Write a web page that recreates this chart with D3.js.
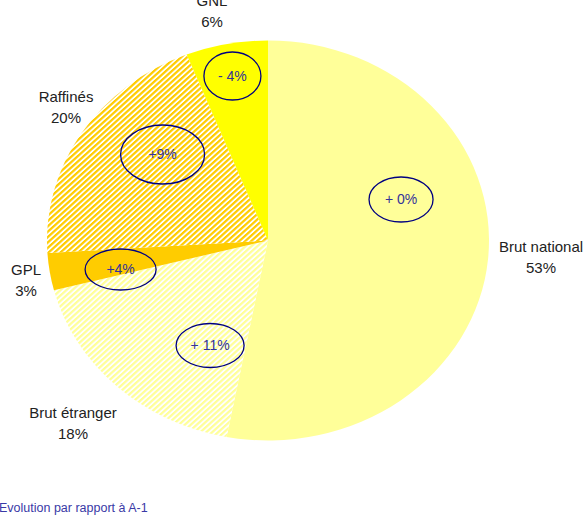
<!DOCTYPE html>
<html>
<head>
<meta charset="utf-8">
<script src="https://cdn.jsdelivr.net/npm/d3@7"></script>
<style>
  body { margin: 0; background: #fff; }
  svg { display: block; font-family: "Liberation Sans", Arial, sans-serif; }
</style>
</head>
<body>
<div id="chart"></div>
<script>
// data
var categories = ["Brut national", "Brut étranger", "GPL", "Raffinés", "GNL"];
var shares = [53, 18, 3, 20, 6];
var evolutions = ["+ 0%", "+ 11%", "+4%", "+9%", "- 4%"];
var footnote = "Evolution par rapport à A-1";

init();

function init() {
    var w = 587, h = 524;
    var cx = 268, cy = 240.5, rx = 221, ry = 200;

    var vis = d3.select("#chart")
        .append("svg")
        .attr("width", w)
        .attr("height", h);

    var defs = vis.append("defs");
    function hatch(id, color) {
        var p = defs.append("pattern")
            .attr("id", id)
            .attr("patternUnits", "userSpaceOnUse")
            .attr("width", 3.8)
            .attr("height", 3.8)
            .attr("patternTransform", "rotate(45)");
        p.append("rect").attr("width", 3.8).attr("height", 3.8).attr("fill", "#fff");
        p.append("rect").attr("width", 2.1).attr("height", 3.8).attr("fill", color);
    }
    hatch("hatchEtranger", "#ffff99");
    hatch("hatchRaffines", "#ffcc00");

    var fills = ["#ffff99", "url(#hatchEtranger)", "#ffcc00", "url(#hatchRaffines)", "#ffff00"];

    var pie = d3.pie().sort(null).value(function(d) { return d; });
    var arc = d3.arc().innerRadius(0).outerRadius(ry);

    // pie drawn as a circle then stretched horizontally
    var g = vis.append("g")
        .attr("transform", "translate(" + cx + "," + cy + ") scale(" + (rx / ry) + ",1)");

    g.selectAll("path.slice")
        .data(pie(shares))
        .enter()
        .append("path")
        .attr("class", "slice")
        .attr("d", arc)
        .attr("fill", function(d, i) { return fills[i]; });

    // category labels (name + share)
    var labelPos = [[541, 252], [73, 418], [26, 275], [66, 102], [212, 6]];
    var lab = vis.selectAll("g.label")
        .data(categories)
        .enter()
        .append("g")
        .attr("class", "label")
        .attr("transform", function(d, i) { return "translate(" + labelPos[i][0] + "," + labelPos[i][1] + ")"; });
    lab.append("text")
        .attr("text-anchor", "middle")
        .attr("fill", "#222")
        .style("font-size", "15px")
        .text(function(d) { return d; });
    lab.append("text")
        .attr("text-anchor", "middle")
        .attr("y", 21)
        .attr("fill", "#222")
        .style("font-size", "15px")
        .text(function(d, i) { return shares[i] + "%"; });

    // evolution bubbles, placed relative to the pie radius
    var bubblePos = [[0.602, -0.205], [-0.262, 0.525], [-0.667, 0.145], [-0.477, -0.43], [-0.161, -0.8225]];
    var bubbleSize = [[32, 22.5], [34, 22], [35.5, 20.5], [42, 29.5], [28.5, 24]];
    var bub = vis.selectAll("g.bubble")
        .data(evolutions)
        .enter()
        .append("g")
        .attr("class", "bubble")
        .attr("transform", function(d, i) {
            return "translate(" + (cx + bubblePos[i][0] * rx) + "," + (cy + bubblePos[i][1] * ry) + ")";
        });
    bub.append("ellipse")
        .attr("rx", function(d, i) { return bubbleSize[i][0]; })
        .attr("ry", function(d, i) { return bubbleSize[i][1]; })
        .attr("fill", "none")
        .attr("stroke", "#000080")
        .attr("stroke-width", 1.3);
    bub.append("text")
        .attr("text-anchor", "middle")
        .attr("dy", "0.35em")
        .attr("fill", "#333399")
        .style("font-size", "14px")
        .text(function(d) { return d; });

    vis.append("text")
        .attr("x", -1)
        .attr("y", 512)
        .attr("fill", "#3939a6")
        .style("font-size", "12.5px")
        .text(footnote);
}
</script>
</body>
</html>
